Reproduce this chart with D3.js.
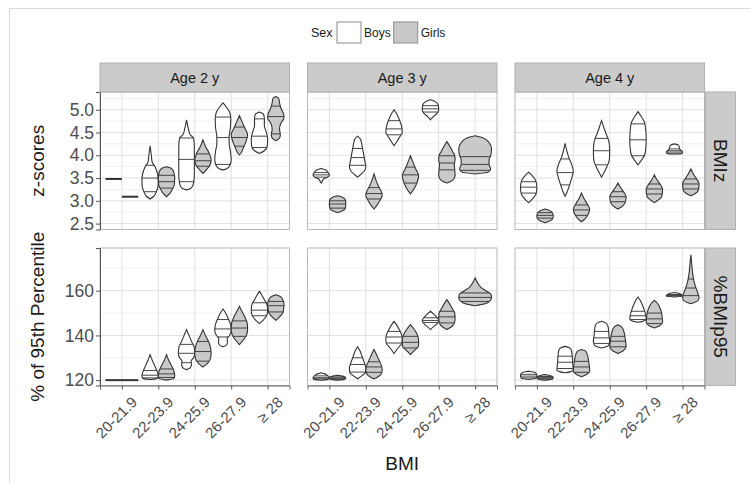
<!DOCTYPE html>
<html>
<head>
<meta charset="utf-8">
<script src="https://cdn.jsdelivr.net/npm/d3@7"></script>
<style>
  body { margin: 0; background: #fff; }
  svg { display: block; font-family: "Liberation Sans", Arial, sans-serif; }
</style>
</head>
<body>
<script>
/*
  violin plots of BMI z-score and %BMIp95 by BMI group, sex and age
  (facet grid: columns = age, rows = measure)
*/
var ages = ["Age 2 y", "Age 3 y", "Age 4 y"];
var measures = ["BMIz", "%BMIp95"];
var measureTitles = ["z-scores", "% of 95th Percentile"];
var bmiGroups = ["20-21.9", "22-23.9", "24-25.9", "26-27.9", "\u2265 28"];
var sexes = ["Boys", "Girls"];
var zTicks = [2.5, 3.0, 3.5, 4.0, 4.5, 5.0];
var pctTicks = [120, 140, 160];
var zLimits = [2.37, 5.39];
var pctLimits = [117.6, 179.1];

// q = 25/50/75 quantiles, dens = [value, relative violin width]
var bmizAge2 = [
  {bmi: "20-21.9", sex: "Boys",  q: [3.48, 3.48, 3.48], dens: [[3.48, 1]]},
  {bmi: "20-21.9", sex: "Girls", q: [3.09, 3.09, 3.09], dens: [[3.09, 1]]},
  {bmi: "22-23.9", sex: "Boys",  q: [3.20, 3.50, 3.78], dens: [[4.21,0],[4.0,0.15],[3.85,0.25],[3.75,0.6],[3.6,0.9],[3.45,1.0],[3.3,0.95],[3.2,0.75],[3.1,0.45],[3.04,0]]},
  {bmi: "22-23.9", sex: "Girls", q: [3.28, 3.42, 3.56], dens: [[3.75,0],[3.72,0.5],[3.65,0.85],[3.5,1.0],[3.35,0.95],[3.25,0.7],[3.15,0.35],[3.09,0]]},
  {bmi: "24-25.9", sex: "Boys",  q: [3.42, 3.91, 4.38], dens: [[4.78,0],[4.6,0.2],[4.45,0.45],[4.38,0.85],[4.2,0.95],[3.9,0.95],[3.6,0.95],[3.45,0.9],[3.35,0.8],[3.27,0.5],[3.24,0]]},
  {bmi: "24-25.9", sex: "Girls", q: [3.76, 3.88, 4.03], dens: [[4.34,0],[4.2,0.3],[4.05,0.75],[3.9,1.0],[3.78,0.85],[3.7,0.5],[3.6,0]]},
  {bmi: "26-27.9", sex: "Boys",  q: [3.80, 4.39, 4.84], dens: [[5.15,0],[5.05,0.45],[4.95,0.8],[4.8,0.95],[4.6,0.9],[4.4,0.75],[4.25,0.75],[4.1,0.9],[3.9,1.0],[3.78,0.85],[3.7,0.4],[3.68,0]]},
  {bmi: "26-27.9", sex: "Girls", q: [4.20, 4.39, 4.62], dens: [[4.87,0],[4.75,0.3],[4.62,0.6],[4.45,1.0],[4.3,0.8],[4.15,0.45],[4.05,0.2],[4.01,0]]},
  {bmi: "\u2265 28", sex: "Boys",  q: [4.17, 4.42, 4.80], dens: [[4.95,0],[4.9,0.5],[4.8,0.6],[4.65,0.6],[4.5,0.85],[4.35,1.0],[4.2,0.95],[4.1,0.6],[4.04,0]]},
  {bmi: "\u2265 28", sex: "Girls", q: [4.47, 4.85, 5.08], dens: [[5.29,0],[5.25,0.35],[5.15,0.45],[5.05,0.6],[4.9,0.95],[4.82,1.0],[4.7,0.6],[4.58,0.45],[4.45,0.55],[4.38,0.45],[4.32,0]]}
];

var bmizAge3 = [
  {bmi: "20-21.9", sex: "Boys",  q: [3.52, 3.57, 3.62], dens: [[3.71,0],[3.68,0.5],[3.62,0.85],[3.56,1.0],[3.52,0.8],[3.48,0.3],[3.42,0.1],[3.39,0]]},
  {bmi: "20-21.9", sex: "Girls", q: [2.84, 2.93, 3.00], dens: [[3.11,0],[3.08,0.6],[3.02,0.95],[2.93,1.0],[2.84,0.95],[2.78,0.6],[2.74,0]]},
  {bmi: "22-23.9", sex: "Boys",  q: [3.78, 3.95, 4.15], dens: [[4.42,0],[4.35,0.35],[4.2,0.55],[4.05,0.7],[3.9,0.85],[3.75,1.0],[3.65,0.8],[3.58,0.4],[3.52,0]]},
  {bmi: "22-23.9", sex: "Girls", q: [3.04, 3.16, 3.29], dens: [[3.59,0],[3.45,0.25],[3.32,0.55],[3.2,0.9],[3.12,1.0],[3.0,0.7],[2.9,0.35],[2.82,0]]},
  {bmi: "24-25.9", sex: "Boys",  q: [4.45, 4.58, 4.76], dens: [[5.0,0],[4.9,0.35],[4.78,0.65],[4.65,0.9],[4.5,1.0],[4.42,0.75],[4.32,0.4],[4.21,0]]},
  {bmi: "24-25.9", sex: "Girls", q: [3.39, 3.57, 3.74], dens: [[3.99,0],[3.85,0.3],[3.7,0.65],[3.55,1.0],[3.4,0.8],[3.28,0.5],[3.15,0]]},
  {bmi: "26-27.9", sex: "Boys",  q: [4.95, 5.02, 5.09], dens: [[5.22,0],[5.18,0.55],[5.1,0.95],[5.0,1.0],[4.92,0.8],[4.85,0.35],[4.78,0]]},
  {bmi: "26-27.9", sex: "Girls", q: [3.68, 3.83, 3.99], dens: [[4.30,0],[4.2,0.35],[4.08,0.7],[4.0,0.95],[3.9,1.0],[3.8,0.9],[3.7,0.95],[3.55,1.0],[3.45,0.7],[3.39,0]]},
  {bmi: "\u2265 28", sex: "Girls", q: [3.67, 3.80, 3.97], dens: [[4.43,0],[4.38,0.5],[4.28,0.85],[4.15,1.0],[4.0,0.95],[3.9,0.85],[3.8,0.85],[3.7,0.95],[3.63,0.8],[3.59,0]]}
];

var bmizAge4 = [
  {bmi: "20-21.9", sex: "Boys",  q: [3.17, 3.30, 3.42], dens: [[3.63,0],[3.55,0.45],[3.45,0.85],[3.3,1.0],[3.15,0.9],[3.05,0.5],[2.96,0]]},
  {bmi: "20-21.9", sex: "Girls", q: [2.62, 2.68, 2.74], dens: [[2.82,0],[2.78,0.6],[2.72,0.95],[2.66,1.0],[2.6,0.9],[2.55,0.5],[2.52,0]]},
  {bmi: "22-23.9", sex: "Boys",  q: [3.35, 3.62, 3.92], dens: [[4.26,0],[4.1,0.2],[3.95,0.45],[3.8,0.8],[3.65,1.0],[3.5,0.8],[3.35,0.55],[3.2,0.25],[3.10,0]]},
  {bmi: "22-23.9", sex: "Girls", q: [2.68, 2.80, 2.91], dens: [[3.17,0],[3.05,0.3],[2.93,0.7],[2.82,1.0],[2.7,0.8],[2.6,0.4],[2.54,0]]},
  {bmi: "24-25.9", sex: "Boys",  q: [3.79, 4.10, 4.37], dens: [[4.76,0],[4.6,0.3],[4.45,0.6],[4.3,0.9],[4.1,1.0],[3.9,0.95],[3.75,0.65],[3.62,0.3],[3.52,0]]},
  {bmi: "24-25.9", sex: "Girls", q: [2.98, 3.09, 3.20], dens: [[3.39,0],[3.28,0.35],[3.18,0.75],[3.08,1.0],[2.95,0.85],[2.87,0.45],[2.82,0]]},
  {bmi: "26-27.9", sex: "Boys",  q: [3.99, 4.34, 4.69], dens: [[4.96,0],[4.85,0.4],[4.72,0.8],[4.55,0.95],[4.35,1.0],[4.15,0.95],[4.0,0.8],[3.9,0.45],[3.79,0]]},
  {bmi: "26-27.9", sex: "Girls", q: [3.15, 3.26, 3.37], dens: [[3.57,0],[3.45,0.35],[3.35,0.75],[3.25,1.0],[3.1,0.9],[3.02,0.5],[2.96,0]]},
  {bmi: "\u2265 28", sex: "Boys",  q: [4.07, 4.10, 4.14], dens: [[4.25,0],[4.22,0.5],[4.17,0.6],[4.12,0.7],[4.07,1.0],[4.04,0.9],[4.03,0]]},
  {bmi: "\u2265 28", sex: "Girls", q: [3.26, 3.37, 3.48], dens: [[3.70,0],[3.58,0.35],[3.48,0.7],[3.38,1.0],[3.25,0.95],[3.16,0.55],[3.11,0]]}
];

var pctAge2 = [
  {bmi: "20-21.9", sex: "Boys",  q: [120.0, 120.0, 120.0], dens: [[120.0, 1]]},
  {bmi: "20-21.9", sex: "Girls", q: [120.0, 120.0, 120.0], dens: [[120.0, 1]]},
  {bmi: "22-23.9", sex: "Boys",  q: [121.0, 122.2, 124.3], dens: [[131.4,0],[129,0.25],[126.5,0.55],[124,0.85],[122,1.0],[120.8,0.9],[120.3,0]]},
  {bmi: "22-23.9", sex: "Girls", q: [121.2, 122.8, 125.0], dens: [[131.4,0],[129,0.25],[126.5,0.6],[124,0.9],[122,1.0],[120.7,0.9],[120.0,0]]},
  {bmi: "24-25.9", sex: "Boys",  q: [127.8, 132.0, 136.0], dens: [[142.6,0],[140,0.3],[137,0.65],[134.5,0.95],[132,1.0],[130,0.85],[128.5,0.55],[127,0.6],[125.5,0.45],[124.7,0]]},
  {bmi: "24-25.9", sex: "Girls", q: [128.5, 132.8, 137.3], dens: [[142.6,0],[140,0.3],[137.5,0.65],[135,0.9],[132,1.0],[129.5,0.9],[127.5,0.55],[125.9,0]]},
  {bmi: "26-27.9", sex: "Boys",  q: [139.3, 142.9, 147.1], dens: [[151.8,0],[149.5,0.4],[147,0.7],[144.5,0.95],[142,1.0],[140,0.8],[138.5,0.5],[137,0.55],[135.6,0.4],[134.9,0]]},
  {bmi: "26-27.9", sex: "Girls", q: [139.6, 143.3, 146.5], dens: [[153,0],[150.5,0.35],[148,0.7],[145.5,0.95],[143,1.0],[140.5,0.9],[138.5,0.6],[135.9,0]]},
  {bmi: "\u2265 28", sex: "Boys",  q: [148.8, 151.3, 154.6], dens: [[159.7,0],[158,0.3],[156,0.6],[154,0.9],[151.5,1.0],[149,0.9],[147,0.5],[145.3,0]]},
  {bmi: "\u2265 28", sex: "Girls", q: [150.5, 153.3, 155.2], dens: [[158.2,0],[157.5,0.5],[156,0.85],[154,1.0],[152,0.95],[150,0.85],[148.5,0.5],[146.7,0]]}
];

var pctAge3 = [
  {bmi: "20-21.9", sex: "Boys",  q: [120.6, 121.1, 121.9], dens: [[123.3,0],[122.8,0.45],[122,0.8],[121,1.0],[120.4,0.9],[120,0]]},
  {bmi: "20-21.9", sex: "Girls", q: [120.5, 120.9, 121.4], dens: [[122.2,0],[121.8,0.6],[121,1.0],[120.4,0.85],[120,0]]},
  {bmi: "22-23.9", sex: "Boys",  q: [123.6, 127.0, 130.0], dens: [[134.9,0],[133,0.3],[130.5,0.55],[128,0.8],[125.5,1.0],[123.5,0.95],[122,0.55],[120.6,0]]},
  {bmi: "22-23.9", sex: "Girls", q: [123.5, 125.9, 128.2], dens: [[133.7,0],[131.5,0.3],[129,0.6],[126.5,0.9],[124.5,1.0],[122.5,0.85],[121.3,0.4],[120.6,0]]},
  {bmi: "24-25.9", sex: "Boys",  q: [136.6, 139.3, 141.8], dens: [[146.3,0],[144.5,0.35],[142.5,0.65],[140.5,0.9],[138.5,1.0],[136.5,0.95],[134.5,0.5],[131.9,0]]},
  {bmi: "24-25.9", sex: "Girls", q: [134.4, 136.9, 139.6], dens: [[144.8,0],[143,0.4],[141,0.75],[139,0.95],[137,1.0],[135,0.95],[133.5,0.55],[131.4,0]]},
  {bmi: "26-27.9", sex: "Boys",  q: [145.8, 146.7, 147.9], dens: [[150.8,0],[149.5,0.4],[148,0.8],[146.7,1.0],[145,0.75],[143.8,0.35],[142.6,0]]},
  {bmi: "26-27.9", sex: "Girls", q: [145.6, 148.3, 150.8], dens: [[156,0],[154,0.35],[152,0.65],[150,0.95],[148,1.0],[146,0.95],[144,0.6],[142.6,0]]},
  {bmi: "\u2265 28", sex: "Girls", q: [155.2, 157.0, 159.0], dens: [[165.7,0],[163.5,0.15],[161.5,0.35],[160,0.65],[158.5,0.95],[157,1.0],[155.5,0.9],[154.2,0.6],[153.3,0]]}
];

var pctAge4 = [
  {bmi: "20-21.9", sex: "Boys",  q: [121.0, 121.8, 122.6], dens: [[124,0],[123.6,0.6],[122.8,0.95],[121.8,1.0],[120.9,0.9],[120.3,0]]},
  {bmi: "20-21.9", sex: "Girls", q: [120.6, 121.1, 121.6], dens: [[122.5,0],[122.1,0.55],[121.3,1.0],[120.5,0.9],[120,0]]},
  {bmi: "22-23.9", sex: "Boys",  q: [125.2, 128.0, 130.7], dens: [[135.1,0],[134.5,0.5],[133.5,0.75],[131.5,0.85],[129,0.9],[126.5,0.95],[124.5,1.0],[123.7,0.6],[123.3,0]]},
  {bmi: "22-23.9", sex: "Girls", q: [123.5, 125.9, 128.4], dens: [[133.7,0],[133,0.5],[131.5,0.7],[129,0.85],[126.5,0.95],[124,1.0],[122.5,0.6],[121.5,0]]},
  {bmi: "24-25.9", sex: "Boys",  q: [136.4, 138.9, 141.8], dens: [[146.3,0],[145.6,0.5],[144.5,0.75],[142.5,0.85],[140,0.9],[137.5,1.0],[135.5,0.85],[134.4,0]]},
  {bmi: "24-25.9", sex: "Girls", q: [134.9, 137.4, 139.6], dens: [[144.8,0],[143.8,0.45],[142,0.7],[139.5,0.85],[137,0.95],[135,1.0],[133,0.6],[131.9,0]]},
  {bmi: "26-27.9", sex: "Boys",  q: [147.1, 148.8, 150.8], dens: [[157.2,0],[155.5,0.3],[153.5,0.55],[151,0.8],[149,0.95],[147.3,1.0],[146.3,0.6],[145.9,0]]},
  {bmi: "26-27.9", sex: "Girls", q: [145.3, 147.4, 150.0], dens: [[155.7,0],[154.5,0.35],[152.5,0.65],[150.5,0.85],[148,0.95],[146,1.0],[144.2,0.6],[143.3,0]]},
  {bmi: "\u2265 28", sex: "Boys",  q: [157.6, 157.9, 158.3], dens: [[159.2,0],[158.9,0.5],[158.3,0.85],[157.6,1.0],[157.2,0]]},
  {bmi: "\u2265 28", sex: "Girls", q: [157.8, 161.2, 165.2], dens: [[176.1,0],[173,0.08],[170,0.15],[167,0.25],[164,0.4],[161.5,0.6],[159,0.85],[157,1.0],[155.5,0.85],[154.2,0]]}
];

var panelData = [
  [bmizAge2, bmizAge3, bmizAge4],
  [pctAge2, pctAge3, pctAge4]
];

var W = 751, H = 483;
var panelW = 189.5, panelH = 137.5, gapX = 18, gapY = 18.5;
var panelLeft = 100, panelTop = 92;
var stripH = 29, stripW = 30;
var fills = {Boys: "#ffffff", Girls: "#c9c9c9"};
var ink = "#333333";

var svg = d3.select("body")
  .append("svg")
    .attr("width", W)
    .attr("height", H);

// faint frame around the figure
svg.append("rect")
  .attr("x", 9.5).attr("y", 8.5)
  .attr("width", W + 20).attr("height", H + 20)
  .attr("fill", "none")
  .attr("stroke", "#dcdcdc");

var x = d3.scalePoint().domain(bmiGroups).range([0, panelW]).padding(0.6);
var yScales = [
  d3.scaleLinear().domain(zLimits).range([panelH, 0]),
  d3.scaleLinear().domain(pctLimits).range([panelH, 0])
];
var majorTicks = [zTicks, pctTicks];

function minorTicks(ticks, dom) {
  var step = ticks[1] - ticks[0];
  var out = [];
  for (var v = ticks[0] - step / 2; v < dom[1]; v += step) {
    if (v > dom[0]) out.push(v);
  }
  return out;
}

function widthAt(dens, v) {
  for (var i = 0; i < dens.length - 1; i++) {
    var a = dens[i], b = dens[i + 1];
    if (v <= a[0] && v >= b[0]) {
      var t = (a[0] - v) / (a[0] - b[0]);
      return a[1] + t * (b[1] - a[1]);
    }
  }
  return 0;
}

function drawViolins(g, data, y) {
  var step = x.step();
  var counts = d3.rollup(data, function(v) { return v.length; }, function(d) { return d.bmi; });

  data.forEach(function(d) {
    var n = counts.get(d.bmi);
    var slot = 0.9 * step / n;
    var i = n === 1 ? 0 : sexes.indexOf(d.sex);
    var cx = x(d.bmi) - 0.45 * step + slot * (i + 0.5);
    var hw = slot / 2;

    if (d.dens.length === 1) {
      // single value: the violin collapses to a line
      g.append("line")
        .attr("x1", cx - hw).attr("x2", cx + hw)
        .attr("y1", y(d.dens[0][0])).attr("y2", y(d.dens[0][0]))
        .attr("stroke", ink)
        .attr("stroke-width", 2);
      return;
    }

    var area = d3.area()
      .curve(d3.curveMonotoneY)
      .y(function(p) { return y(p[0]); })
      .x0(function(p) { return cx - p[1] * hw; })
      .x1(function(p) { return cx + p[1] * hw; });

    g.append("path")
      .attr("d", area(d.dens))
      .attr("fill", fills[d.sex])
      .attr("stroke", ink)
      .attr("stroke-width", 1.1);

    d.q.forEach(function(q) {
      var w = widthAt(d.dens, q) * hw;
      g.append("line")
        .attr("x1", cx - w).attr("x2", cx + w)
        .attr("y1", y(q)).attr("y2", y(q))
        .attr("stroke", ink)
        .attr("stroke-width", 0.9);
    });
  });
}

for (var r = 0; r < measures.length; r++) {
  var y = yScales[r];
  for (var c = 0; c < ages.length; c++) {
    var px = panelLeft + c * (panelW + gapX);
    var py = panelTop + r * (panelH + gapY);
    var g = svg.append("g").attr("transform", "translate(" + px + "," + py + ")");

    g.append("rect").attr("width", panelW).attr("height", panelH).attr("fill", "#fff");

    // grid
    g.selectAll(".minor")
      .data(minorTicks(majorTicks[r], y.domain()))
      .enter().append("line")
        .attr("x1", 0).attr("x2", panelW)
        .attr("y1", function(d) { return y(d); })
        .attr("y2", function(d) { return y(d); })
        .attr("stroke", "#efefef")
        .attr("stroke-width", 0.8);
    g.selectAll(".majory")
      .data(majorTicks[r])
      .enter().append("line")
        .attr("x1", 0).attr("x2", panelW)
        .attr("y1", function(d) { return y(d); })
        .attr("y2", function(d) { return y(d); })
        .attr("stroke", "#e0e0e0")
        .attr("stroke-width", 1);
    g.selectAll(".majorx")
      .data(bmiGroups)
      .enter().append("line")
        .attr("x1", function(d) { return x(d); })
        .attr("x2", function(d) { return x(d); })
        .attr("y1", 0).attr("y2", panelH)
        .attr("stroke", "#e0e0e0")
        .attr("stroke-width", 1);

    drawViolins(g, panelData[r][c], y);

    g.append("rect")
      .attr("width", panelW).attr("height", panelH)
      .attr("fill", "none")
      .attr("stroke", "#b8b8b8");

    // top strips
    if (r === 0) {
      svg.append("rect")
        .attr("x", px).attr("y", panelTop - stripH)
        .attr("width", panelW).attr("height", stripH)
        .attr("fill", "#cbcbcb").attr("stroke", "#b0b0b0");
      svg.append("text")
        .attr("x", px + panelW / 2).attr("y", panelTop - stripH / 2)
        .attr("dy", "0.35em")
        .attr("text-anchor", "middle")
        .style("font-size", "14.5px")
        .style("fill", "#1a1a1a")
        .text(ages[c]);
    }

    // y axis on the first column
    if (c === 0) {
      var ya = g.append("g")
        .call(d3.axisLeft(y).tickValues(majorTicks[r]).tickSize(4).tickPadding(2)
          .tickFormat(r === 0 ? d3.format(".1f") : d3.format("d")));
      ya.select(".domain").attr("stroke", "#555");
      ya.selectAll(".tick line").attr("stroke", "#555");
      ya.selectAll(".tick text")
        .style("font-size", "17.5px")
        .style("font-family", "'Liberation Sans', Arial, sans-serif")
        .attr("fill", "#4d4d4d");
    }

    // x axis on the bottom row
    if (r === measures.length - 1) {
      var xa = g.append("g")
        .attr("transform", "translate(0," + panelH + ")")
        .call(d3.axisBottom(x).tickSize(4).tickPadding(3));
      xa.select(".domain").attr("stroke", "#666");
      xa.selectAll(".tick line").attr("stroke", "#555");
      xa.selectAll(".tick text")
        .style("font-size", "15px")
        .style("font-family", "'Liberation Sans', Arial, sans-serif")
        .attr("fill", "#4d4d4d")
        .attr("text-anchor", "end")
        .attr("dy", "0.35em")
        .attr("transform", "translate(7,9) rotate(-45)");
    }
  }

  // right strip
  var sx = panelLeft + 3 * panelW + 2 * gapX + 1;
  var sy = panelTop + r * (panelH + gapY);
  svg.append("rect")
    .attr("x", sx).attr("y", sy)
    .attr("width", stripW).attr("height", panelH)
    .attr("fill", "#cbcbcb").attr("stroke", "#b0b0b0");
  svg.append("text")
    .attr("transform", "translate(" + (sx + stripW / 2) + "," + (sy + panelH / 2) + ") rotate(90)")
    .attr("dy", "0.35em")
    .attr("text-anchor", "middle")
    .style("font-size", "19px")
    .style("fill", "#1a1a1a")
    .text(measures[r]);

  // y title
  svg.append("text")
    .attr("transform", "translate(37," + (panelTop + r * (panelH + gapY) + panelH / 2) + ") rotate(-90)")
    .attr("dy", "0.35em")
    .attr("text-anchor", "middle")
    .style("font-size", "19px")
    .style("fill", "#1a1a1a")
    .text(measureTitles[r]);
}

// x title
svg.append("text")
  .attr("x", panelLeft + (3 * panelW + 2 * gapX) / 2)
  .attr("y", 470)
  .attr("text-anchor", "middle")
  .style("font-size", "19px")
  .style("fill", "#1a1a1a")
  .text("BMI");

// legend
var legend = svg.append("g").attr("transform", "translate(311,22)");
legend.append("text")
  .attr("x", 0).attr("y", 10.5).attr("dy", "0.35em")
  .style("font-size", "12.5px").style("fill", "#1a1a1a")
  .text("Sex");
var keyX = 26;
sexes.forEach(function(s) {
  legend.append("rect")
    .attr("x", keyX).attr("y", 0)
    .attr("width", 24).attr("height", 21)
    .attr("fill", fills[s])
    .attr("stroke", "#8a8a8a");
  var t = legend.append("text")
    .attr("x", keyX + 27).attr("y", 10.5).attr("dy", "0.35em")
    .style("font-size", "12px").style("fill", "#1a1a1a")
    .text(s);
  keyX += 27 + t.node().getComputedTextLength() + 3;
});
</script>
</body>
</html>
